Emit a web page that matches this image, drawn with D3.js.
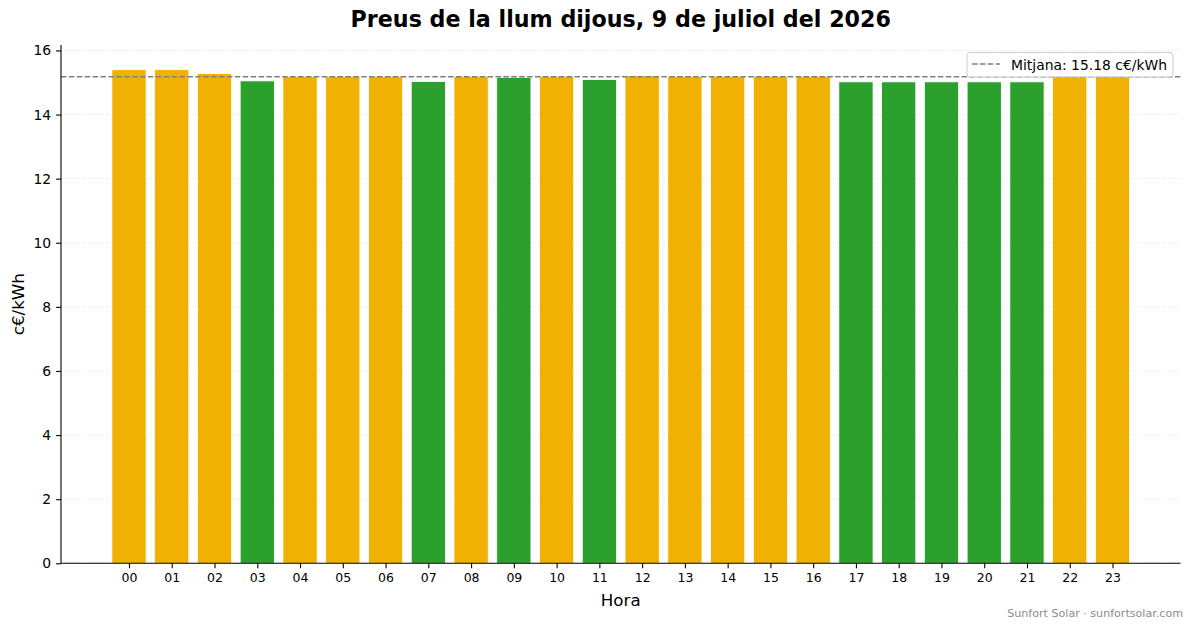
<!DOCTYPE html>
<html><head><meta charset="utf-8">
<script src="https://cdn.jsdelivr.net/npm/d3@7"></script>
<style>body{margin:0;background:#fff;} text{font-family:"DejaVu Sans",sans-serif;}</style>
</head><body>
<svg id="chart" width="1193" height="628"></svg>
<script>
const hours = ["00","01","02","03","04","05","06","07","08","09","10","11","12","13","14","15","16","17","18","19","20","21","22","23"];
const prices = [15.40,15.40,15.28,15.05,15.19,15.19,15.19,15.03,15.19,15.16,15.19,15.09,15.21,15.19,15.19,15.19,15.19,15.02,15.02,15.02,15.02,15.02,15.19,15.19];
const average = 15.18;
const yTicks = [0,2,4,6,8,10,12,14,16];
const titleText = "Preus de la llum dijous, 9 de juliol del 2026";
const legendText = "Mitjana: 15.18 c€/kWh";
const footerText = "Sunfort Solar · sunfortsolar.com";

const svg = d3.select("#chart");
const L = 61, R = 1180.5, T = 45, B = 563.3;
const n = hours.length;
const pad = (n - 1 + 0.8) * 0.05;
const x = d3.scaleLinear().domain([-0.4 - pad, n - 1 + 0.4 + pad]).range([L, R]);
const ymax = d3.max(prices) * 1.05;
const y = d3.scaleLinear().domain([0, ymax]).range([B, T]);
const orange = "#f0b103", green = "#2ca02c";

// grid
svg.append("g").selectAll("line").data(yTicks).join("line")
  .attr("x1", L).attr("x2", R).attr("y1", d => y(d)).attr("y2", d => y(d))
  .attr("stroke", "#b0b0b0").attr("stroke-opacity", 0.5).attr("stroke-width", 0.8)
  .attr("stroke-dasharray", "1,2");

// bars
const bw = x(0.8) - x(0);
svg.append("g").selectAll("rect").data(prices).join("rect")
  .attr("x", (d, i) => x(i - 0.4)).attr("width", bw)
  .attr("y", d => y(d)).attr("height", d => y(0) - y(d))
  .attr("fill", d => d >= average ? orange : green)
  .attr("stroke", "#fff").attr("stroke-width", 0.8);

// average line
svg.append("line").attr("x1", L).attr("x2", R).attr("y1", y(average)).attr("y2", y(average))
  .attr("stroke", "#808080").attr("stroke-width", 1.5).attr("stroke-dasharray", "5.5,2.4");

// axes
const yAxis = d3.axisLeft(y).tickValues(yTicks).tickSize(4.9).tickPadding(4.9).tickFormat(d3.format("d"));
const gy = svg.append("g").attr("transform", `translate(${L},0)`).call(yAxis);
gy.select(".domain").attr("d", `M0,${T}V${B}`).attr("stroke", "#000").attr("stroke-width", 1.1);
gy.selectAll(".tick line").attr("stroke", "#000").attr("stroke-width", 1.1);
gy.selectAll(".tick text").attr("font-size", "13.9px").attr("fill", "#000").attr("font-family", "DejaVu Sans");

const xAxis = d3.axisBottom(x).tickValues(d3.range(n)).tickSize(4.9).tickPadding(4.5).tickFormat(i => hours[i]);
const gx = svg.append("g").attr("transform", `translate(0,${B})`).call(xAxis);
gx.select(".domain").attr("d", `M${L},0H${R}`).attr("stroke", "#000").attr("stroke-width", 1.1);
gx.selectAll(".tick line").attr("stroke", "#000").attr("stroke-width", 1.1);
gx.selectAll(".tick text").attr("font-size", "12.5px").attr("fill", "#000").attr("font-family", "DejaVu Sans");

// title & labels
svg.append("text").attr("x", (L + R) / 2).attr("y", 27).attr("text-anchor", "middle")
  .attr("font-size", "22.2px").attr("font-weight", "bold").text(titleText);
svg.append("text").attr("x", (L + R) / 2).attr("y", 606).attr("text-anchor", "middle")
  .attr("font-size", "16.7px").text("Hora");
svg.append("text").attr("transform", `translate(24,${(T + B) / 2}) rotate(-90)`).attr("text-anchor", "middle")
  .attr("font-size", "16.7px").text("c€/kWh");

// legend
const lg = svg.append("g");
lg.append("rect").attr("x", 967).attr("y", 52.5).attr("width", 206).attr("height", 24.5).attr("rx", 3)
  .attr("fill", "#fff").attr("fill-opacity", 0.8).attr("stroke", "#cccccc").attr("stroke-width", 1);
lg.append("line").attr("x1", 972).attr("x2", 1000).attr("y1", 64).attr("y2", 64)
  .attr("stroke", "#808080").attr("stroke-width", 1.5).attr("stroke-dasharray", "5.5,2.4");
lg.append("text").attr("x", 1011).attr("y", 69.5).attr("font-size", "13.9px").text(legendText);

// footer
svg.append("text").attr("x", 1183).attr("y", 617).attr("text-anchor", "end")
  .attr("font-size", "11.1px").attr("fill", "#8c8c8c").text(footerText);
</script>
</body></html>
